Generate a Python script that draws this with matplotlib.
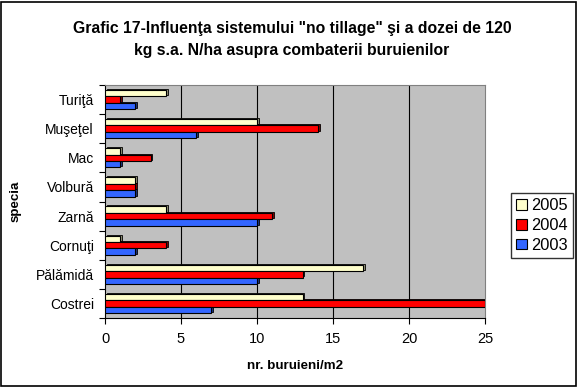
import matplotlib.pyplot as plt
import matplotlib.patches as patches
import numpy as np

plt.rcParams['font.family'] = ['Liberation Sans', 'DejaVu Sans']

specii = ['Costrei', 'Pălămidă', 'Cornuţi', 'Zarnă', 'Volbură', 'Mac', 'Muşeţel', 'Turiţă']
ani = ['2005', '2004', '2003']
v2005 = [13, 17, 1, 4, 2, 1, 10, 4]
v2004 = [25, 13, 4, 11, 2, 3, 14, 1]
v2003 = [7, 10, 2, 10, 2, 1, 6, 2]

W, H = 582, 391
fig = plt.figure(figsize=(W / 100, H / 100), dpi=100)
fig.patch.set_facecolor('white')

# chart area border
fig.patches.append(patches.Rectangle((1 / W, 5 / H), 575 / W, 384 / H, transform=fig.transFigure,
                                     fill=False, ec='black', lw=1.2))

ax = fig.add_axes([105 / W, (H - 318) / H, 380 / W, 233 / H])
ax.set_facecolor('#C0C0C0')

y = np.arange(len(specii))
h = 0.22
series = [(v2005, h, '#FFFFCC', '#8C8C70'), (v2004, 0, '#FF0000', '#800000'), (v2003, -h, '#3366FF', '#1A337F')]
for vals, off, col, shade in series:
    # shadow for the 3D look
    ax.barh(y + off + 0.035, vals, height=h, left=0.12, color=shade, edgecolor='black', lw=0.6, zorder=2)
    ax.barh(y + off, vals, height=h, color=col, edgecolor='black', lw=0.8, zorder=3)

ax.set_xlim(0, 25)
ax.set_ylim(-0.5, len(specii) - 0.5)
ax.set_xticks([0, 5, 10, 15, 20, 25])
ax.set_yticks(y)
ax.set_yticklabels(specii)
ax.set_yticks(np.arange(len(specii) + 1) - 0.5, minor=True)
ax.tick_params(axis='y', which='major', length=0, labelsize=10, pad=8)
ax.tick_params(axis='y', which='minor', length=4, width=0.8)
ax.tick_params(axis='x', length=4, width=0.8, labelsize=10.5, pad=6)
for xv in [5, 10, 15, 20]:
    ax.axvline(xv, color='black', lw=0.8, zorder=1)

for s in ['top', 'right']:
    ax.spines[s].set_color('#808080')
for s in ['left', 'bottom']:
    ax.spines[s].set_color('black')

ax.set_xlabel('nr. buruieni/m2', fontsize=9.6, fontweight='bold', labelpad=10)
ax.set_ylabel('specia', fontsize=9.6, fontweight='bold', labelpad=10)

fig.text(292 / W, 1 - 28 / H, 'Grafic 17-Influenţa sistemului "no tillage" şi a dozei de 120',
         ha='center', va='center', fontsize=11.3, fontweight='bold')
fig.text(292 / W, 1 - 50 / H, 'kg s.a. N/ha asupra combaterii buruienilor',
         ha='center', va='center', fontsize=11.3, fontweight='bold')

handles = [patches.Patch(facecolor=c, edgecolor='black', lw=0.8) for _, _, c, _ in series]
leg = fig.legend(handles, ani, loc='upper left', bbox_to_anchor=(511 / W, 1 - 193 / H),
                 fontsize=11.8, frameon=True, fancybox=False, edgecolor='black',
                 handlelength=0.65, handleheight=0.65, handletextpad=0.3, borderpad=0.3,
                 labelspacing=0.3, borderaxespad=0)
leg.get_frame().set_linewidth(1.0)

fig.savefig('out.png', dpi=100)
